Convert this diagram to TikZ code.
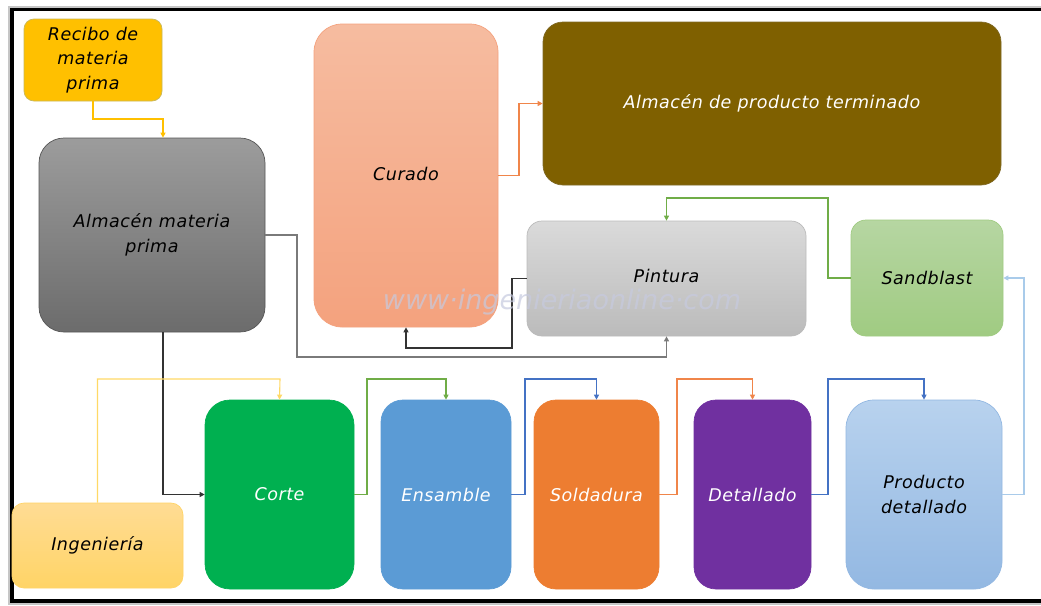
\documentclass[tikz,border=0pt]{standalone}
\usepackage{fontspec}
\setmainfont{DejaVu Sans}
\newfontfamily\boxfont[LetterSpace=3]{DejaVu Sans}
\usetikzlibrary{arrows.meta}

% fills
\definecolor{recfill}{HTML}{FFC000}
\definecolor{recedge}{HTML}{C8B85A}
\definecolor{amptop}{HTML}{9C9C9C}
\definecolor{ampbot}{HTML}{6C6C6C}
\definecolor{curtop}{HTML}{F6BCA0}
\definecolor{curbot}{HTML}{F4A27E}
\definecolor{aptfill}{HTML}{7F6000}
\definecolor{pintop}{HTML}{DADADA}
\definecolor{pinbot}{HTML}{BBBBBB}
\definecolor{santop}{HTML}{B6D6A2}
\definecolor{sanbot}{HTML}{A0CB82}
\definecolor{ingtop}{HTML}{FFDC94}
\definecolor{ingbot}{HTML}{FFD466}
\definecolor{corfill}{HTML}{00B050}
\definecolor{ensfill}{HTML}{5B9BD5}
\definecolor{solfill}{HTML}{ED7D31}
\definecolor{detfill}{HTML}{7030A0}
\definecolor{pdtop}{HTML}{B8D2EE}
\definecolor{pdbot}{HTML}{93B8E2}
% connector colours
\definecolor{lgold}{HTML}{FFC000}
\definecolor{lpale}{HTML}{FFD966}
\definecolor{lgreen}{HTML}{70AD47}
\definecolor{lblue}{HTML}{4472C4}
\definecolor{lorange}{HTML}{F0854A}
\definecolor{lsky}{HTML}{A9CBEA}
\definecolor{ldark}{HTML}{333333}
\definecolor{lgray}{HTML}{7A7A7A}
\definecolor{wmark}{HTML}{C6CADF}

\begin{document}
\begin{tikzpicture}[x=1pt, y=-1pt,
  box/.style={rounded corners=#1, inner sep=0pt, align=center,
    font=\boxfont\itshape\fontsize{17.5}{24.5}\selectfont, line width=0.7pt},
  light/.style={text=white},
  link/.style={line width=1.1pt, -{Triangle[length=5pt,width=5pt]}},
]
\useasboundingbox (0,0) rectangle (1041,605);
\fill[white] (0,0) rectangle (1041,605);

% frame
\draw[gray!45, line width=2pt] (1041,6.5) -- (9,6.5) -- (9,603.5) -- (1041,603.5);
\draw[black, line width=3.5pt] (1041,9.5) -- (12,9.5) -- (12,601) -- (1041,601);

% upper area
\node[box=10pt, fill=recfill, draw=recedge, minimum width=138pt, minimum height=82pt]
  (rec) at (93,60) {Recibo de\\materia\\prima};
\node[box=25pt, top color=amptop, bottom color=ampbot, draw=ampbot!80!black,
  minimum width=226pt, minimum height=194pt]
  (amp) at (152,235) {Almacén materia\\prima};
\node[box=28pt, top color=curtop, bottom color=curbot, draw=curbot,
  minimum width=184pt, minimum height=303pt]
  (cur) at (406,175.5) {\raisebox{3pt}{Curado}};
\node[box=20pt, fill=aptfill, draw=aptfill!70!gray, light,
  minimum width=458pt, minimum height=163pt]
  (apt) at (772,103.5) {Almacén de producto terminado};
\node[box=15pt, top color=pintop, bottom color=pinbot, draw=pinbot,
  minimum width=279pt, minimum height=115pt]
  (pin) at (666.5,278.5) {\raisebox{5pt}{Pintura}};
\node[box=15pt, top color=santop, bottom color=sanbot, draw=sanbot,
  minimum width=152pt, minimum height=116pt]
  (san) at (927,278) {Sandblast};

% lower row
\node[box=12pt, top color=ingtop, bottom color=ingbot, draw=ingbot,
  minimum width=171pt, minimum height=85pt]
  (ing) at (97.5,545.5) {Ingeniería};
\node[box=25pt, fill=corfill, draw=corfill, light,
  minimum width=149pt, minimum height=189pt]
  (cor) at (279.5,494.5) {Corte};
\node[box=22pt, fill=ensfill, draw=ensfill, light,
  minimum width=130pt, minimum height=189pt]
  (ens) at (446,494.5) {Ensamble};
\node[box=22pt, fill=solfill, draw=solfill, light,
  minimum width=125pt, minimum height=189pt]
  (sol) at (596.5,494.5) {Soldadura};
\node[box=22pt, fill=detfill, draw=detfill, light,
  minimum width=117pt, minimum height=189pt]
  (det) at (752.5,494.5) {Detallado};
\node[box=28pt, top color=pdtop, bottom color=pdbot, draw=pdbot,
  minimum width=156pt, minimum height=189pt]
  (pd) at (924,494.5) {Producto\\detallado};

% connectors
\draw[link, lgold] (rec.south) |- (163,119) -- (163,0 |- amp.north);
\draw[link, ldark] (163,0 |- amp.south) |- (cor.west);
\draw[link, lgray] (amp.east) -- (297,235) |- (666.5,357) -- (pin.south);
\draw[link, ldark] (pin.west) -| (512,348) -| (cur.south);
\draw[link, lorange] (cur.east) -| (519,103.5) -- (apt.west);
\draw[link, lgreen] (san.west) -| (828,198) -| (pin.north);
\draw[link, lsky] (pd.east) -| (1024,278) -- (san.east);
\draw[link, lpale] (ing.north) |- (280,379) -- (cor.north);
\draw[link, lgreen] (cor.east) -| (367,379) -| (ens.north);
\draw[link, lblue] (ens.east) -| (525,379) -| (sol.north);
\draw[link, lorange] (sol.east) -| (677,379) -| (det.north);
\draw[link, lblue] (det.east) -| (828,379) -| (pd.north);

% watermark
\node[text=wmark, opacity=0.7, font=\itshape\fontsize{27}{30}\selectfont]
  (wm) at (562,302) {www·ingenieriaonline·com};
\end{tikzpicture}
\end{document}
